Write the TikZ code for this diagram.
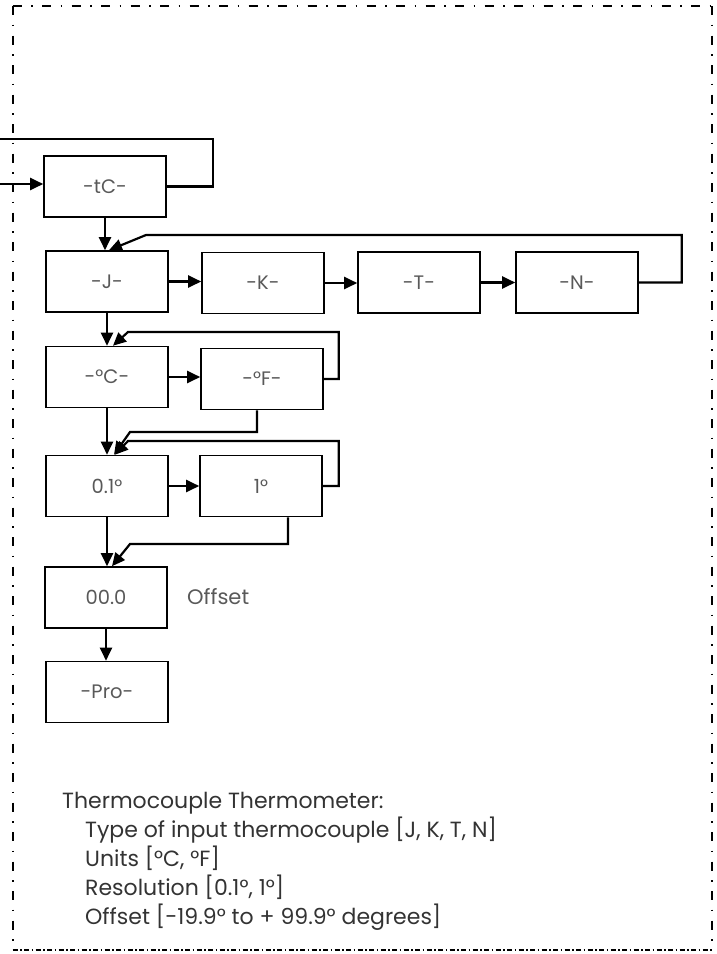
\documentclass[tikz,border=0pt]{standalone}
\usepackage{fontspec}
\setmainfont{Poppins}
\usetikzlibrary{arrows.meta}
\begin{document}
\begin{tikzpicture}[x=1pt,y=-1pt,
  box/.style={draw, line width=1.6pt, minimum width=122pt, minimum height=61pt, inner sep=0pt,
    font=\fontsize{19.5}{22}\selectfont, text=black!65},
  conn/.style={line width=2.2pt},
  arr/.style={conn, -{Triangle[length=13pt,width=12pt]}},
  frameside/.style={line width=2pt, dash pattern=on 9pt off 9.5pt on 1.5pt off 9.5pt},
  framebot/.style={line width=2pt, dash pattern=on 5pt off 2.5pt on 1.5pt off 2.5pt},
  lbl/.style={anchor=west, inner sep=0pt, font=\fontsize{21}{24}\selectfont, text=black!65},
  desc/.style={anchor=base west, inner sep=0pt, font=\fontsize{22}{25}\selectfont, text=black!80}]
\useasboundingbox (0,0) rectangle (717,954);
% frame
\coordinate (fTL) at (12.7,6);
\coordinate (fTR) at (711.7,6);
\coordinate (fBL) at (12.7,950);
\coordinate (fBR) at (711.7,950);
\draw[frameside] (fTL) -- (fTR);
\draw[frameside] (fTL) -- (fBL);
\draw[frameside] (fTR) -- (fBR);
\draw[framebot] (fBL) -- (fBR);
% boxes
\node[box] (tC) at (105,186.5) {-tC-};
\node[box] (J) at (107,281.5) {-J-};
\node[box] (K) at (263,283) {-K-};
\node[box] (T) at (419,282.5) {-T-};
\node[box] (N) at (577,282.5) {-N-};
\node[box] (C) at (107,377) {-°C-};
\node[box] (F) at (262,379) {-°F-};
\node[box] (p1) at (107,486) {0.1°};
\node[box] (one) at (261,486) {1°};
\node[box] (off) at (106,597.5) {00.0};
\node[box] (pro) at (107,692) {-Pro-};
\node[lbl] (offlbl) at (187,597) {Offset};
% connectors
\coordinate (inL) at (0,184);
\coordinate (loopL) at (0,139);
\draw[arr] (inL) -- (inL -| tC.west);
\draw[conn] (tC.east) -- ++(46,0) |- (loopL);
\draw[arr] (tC.south) -- (tC.south |- J.north);
\draw[arr] (N.east) -- ++(43,0) |- (146,235) -- ([xshift=2pt]J.north);
\draw[arr] (J.east) -- (J.east -| K.west);
\draw[arr] (K.east) -- (K.east -| T.west);
\draw[arr] (T.east) -- (T.east -| N.west);
\draw[arr] (J.south) -- (J.south |- C.north);
\draw[arr] (F.east) -- ++(15,0) |- (128,332) -- ([xshift=6pt]C.north);
\draw[arr] (C.east) -- (C.east -| F.west);
\draw[arr] (C.south) -- (C.south |- p1.north);
\draw[arr] ([xshift=-5pt]F.south) |- (130,432) -- ([xshift=7pt]p1.north);
\draw[arr] (one.east) -- ++(16,0) |- (128,441) -- ([xshift=8pt]p1.north);
\draw[arr] (p1.east) -- (p1.east -| one.west);
\draw[arr] (p1.south) -- (p1.south |- off.north);
\draw[arr] ([xshift=27pt]one.south) |- (130,544) -- ([xshift=6pt]off.north);
\draw[arr] (off.south) -- (off.south |- pro.north);
% description
\node[desc] (d0) at (62,808) {Thermocouple Thermometer:};
\node[desc] (d1) at (85,837) {Type of input thermocouple [J, K, T, N]};
\node[desc] (d2) at (85,866) {Units [°C, °F]};
\node[desc] (d3) at (85,895) {Resolution [0.1°, 1°]};
\node[desc] (d4) at (85,924) {Offset [-19.9° to + 99.9° degrees]};
\end{tikzpicture}
\end{document}
